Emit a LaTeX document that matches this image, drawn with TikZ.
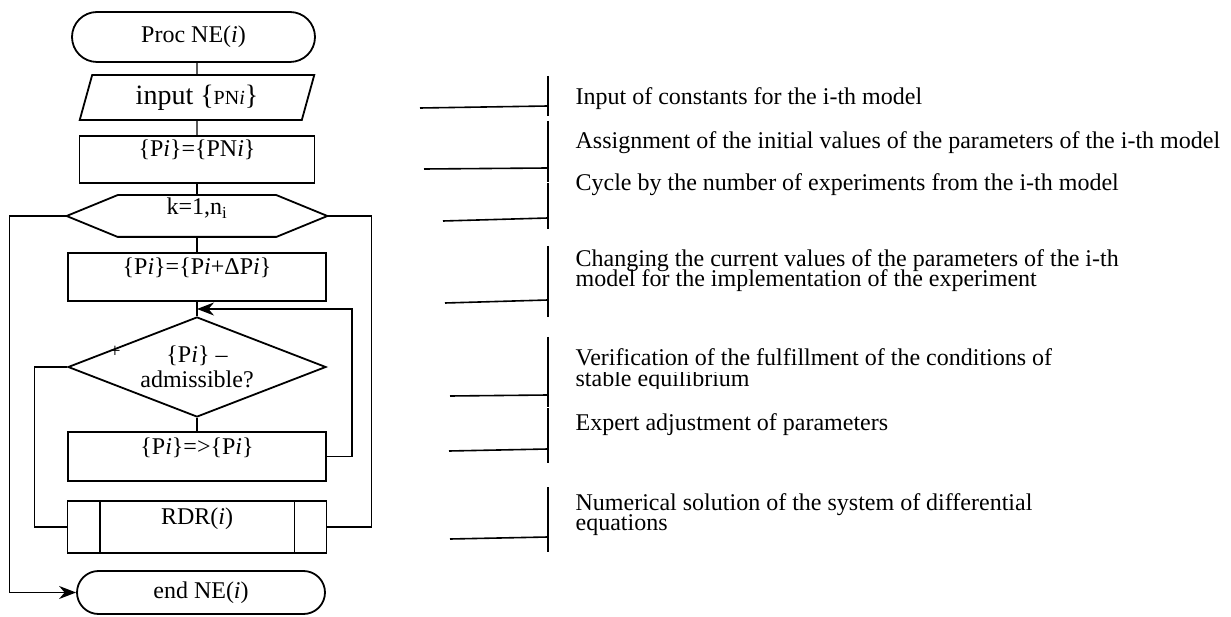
\documentclass[tikz,border=0pt]{standalone}
\usepackage{fontspec}
\setmainfont{Liberation Serif}
\usetikzlibrary{shapes.geometric,shapes.misc,arrows.meta,calc}

\begin{document}
\begin{tikzpicture}[x=1pt,y=-1pt,line width=1.2pt,
		blk/.style={draw,line width=1.8pt,inner sep=0pt,font=\fontsize{24}{25}\selectfont},
		terminal/.style={blk,rounded rectangle,minimum width=243pt,minimum height=50pt},
		procbox/.style={blk,rectangle,minimum width=258pt,minimum height=48pt,text height=18pt,text depth=23pt},
		note/.style={anchor=base west,inner sep=0pt,font=\fontsize{24}{25}\selectfont},
		arr/.style={-{Stealth[length=17pt,width=13pt]}}]
		\useasboundingbox (0,0) rectangle (1231,617);
		\node[terminal] (proc) at (193.5,37) {Proc NE(\textit{i})};
		\node[blk,trapezium,trapezium left angle=74,trapezium right angle=106,trapezium stretches=true,
			minimum width=235pt,minimum height=45pt] (input) at (197,97.5)
			{\fontsize{28}{28}\selectfont input \{\fontsize{20}{20}\selectfont PN\textit{i}\fontsize{28}{28}\selectfont\}};
		\node[procbox,minimum width=235pt,minimum height=47pt] (init) at (197,159.5) {\{P\textit{i}\}=\{PN\textit{i}\}};
		\node[blk,draw=none,minimum width=157pt,minimum height=40pt,text height=17pt,text depth=20pt] (loop) at (197,216) {k=1,n\textsubscript{i}};
		\draw[line width=1.8pt] (loop.north west) -- (loop.north east) -- ($(loop.east)+(51,0)$) coordinate (loopR)
			-- (loop.south east) -- (loop.south west) -- ($(loop.west)+(-51,0)$) coordinate (loopL) -- cycle;
		\node[procbox] (step) at (197,277) {\{P\textit{i}\}=\{P\textit{i}+ΔP\textit{i}\}};
		\node[blk,diamond,aspect=2.58,minimum width=258pt,minimum height=100pt,align=center] (cond) at (197,367)
			{\{P\textit{i}\} –\\admissible?};
		\node[font=\fontsize{20}{20}\selectfont,inner sep=0pt] (plus) at (115,352) {+};
		\node[procbox,minimum height=49pt] (adjust) at (197,456.5) {\{P\textit{i}\}=>\{P\textit{i}\}};
		\node[procbox,minimum width=259pt,minimum height=52pt] (rdr) at (197,527) {RDR(\textit{i})};
		\draw[line width=1.8pt] ($(rdr.north west)+(33,0)$) -- ($(rdr.south west)+(33,0)$);
		\draw[line width=1.8pt] ($(rdr.north east)+(-33,0)$) -- ($(rdr.south east)+(-33,0)$);
		\node[terminal,minimum width=248pt,minimum height=43pt] (end) at (201,592.5) {end NE(\textit{i})};
		\coordinate (merge) at ($(step.south)!0.5!(cond.north)$);

		\draw (proc.south -| input) -- (input.north);
		\draw (input.south) -- (init.north);
		\draw (init.south) -- (loop.north);
		\draw (loop.south) -- (step.north);
		\draw (step.south) -- (cond.north);
		\draw (cond.south) -- (adjust.north);
		\draw[arr] (adjust.east) -| ($(merge)+(155,0)$) -- (merge);
		\draw[arr] (loopL) -- ++(-57,0) |- (end.west);
		\draw (loopR) -- ++(44,0) |- (rdr.east);
		\draw (cond.west) -- ++(-33,0) |- (rdr.west);

		\foreach \ya/\yb/\xl/\yl/\yr in {76/116/420/108/106,121/182/424/169/168,183/229/443/221/218,
			246/317/445/303/300,337/407/450/396/395,408/463/449/451/449,487/552/450/539/537}
		{
			\draw[line width=1.6pt] (548,\ya) -- (548,\yb);
			\draw[line width=1.6pt] (\xl,\yl) -- (548,\yr);
		}

		\node[note] (n1) at (575,105) {Input of constants for the i-th model};
		\node[note] (n2) at (575,149) {Assignment of the initial values of the parameters of the i-th model};
		\node[note] (n3) at (575,191) {Cycle by the number of experiments from the i-th model};
		\node[note] (n4a) at (575,267) {Changing the current values of the parameters of the i-th};
		\node[note] (n4b) at (575,287) {model for the implementation of the experiment};
		\node[note] (n5a) at (575,366) {Verification of the fulfillment of the conditions of};
		\begin{scope}
			\clip (560,372) rectangle (1100,388);
			\node[note] (n5b) at (575,386) {stable equilibrium};
		\end{scope}
		\node[note] (n6) at (575,430) {Expert adjustment of parameters};
		\node[note] (n7a) at (575,510) {Numerical solution of the system of differential};
		\node[note] (n7b) at (575,530) {equations};
	\end{tikzpicture}
\end{document}
